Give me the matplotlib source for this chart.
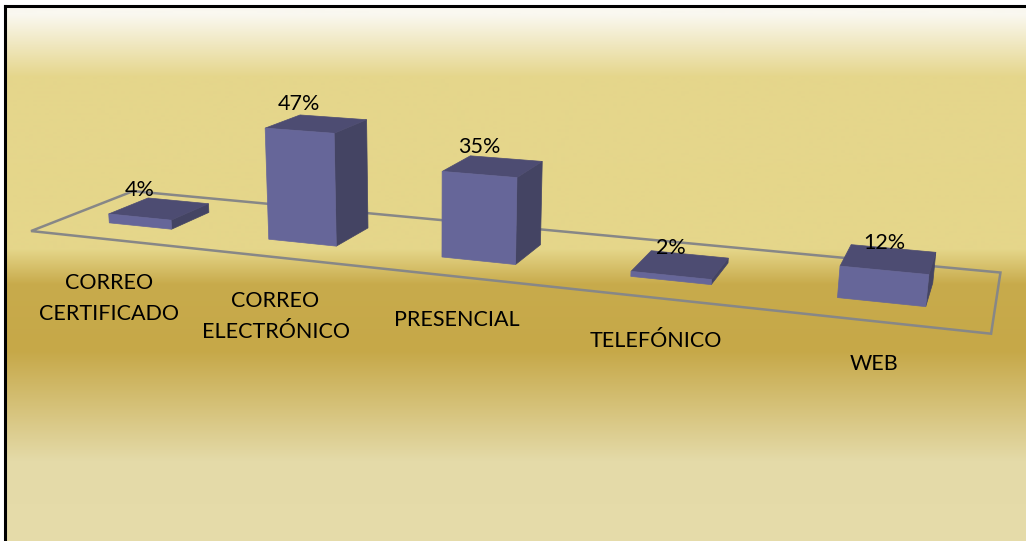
import numpy as np
import matplotlib
matplotlib.use("Agg")
import matplotlib.pyplot as plt
from matplotlib.patches import Polygon

categories = ["CORREO\nCERTIFICADO", "CORREO\nELECTRÓNICO", "PRESENCIAL", "TELEFÓNICO", "WEB"]
values = [4, 47, 35, 2, 12]
value_labels = ["4%", "47%", "35%", "2%", "12%"]

W, H = 1026, 541

# perspective camera (world: X = category index, Y = value %, Z = depth 0..1) -> pixel
CAMERA = np.array([
    [154.9776, -0.1986836, 118.893, 109.1816],
    [7.152245, -2.423026, -19.46481, 239.3973],
    [-0.04137012, -0.0004590407, 0.1112257, 1.0],
])


def proj(X, Y, Z):
    h = CAMERA @ np.array([X, Y, Z, 1.0])
    return h[0] / h[2], h[1] / h[2]


plt.rcParams["font.family"] = ["Lato", "DejaVu Sans"]
fig = plt.figure(figsize=(W / 100, H / 100), dpi=100)

ax = fig.add_axes([0, 0, 1, 1])
ax.set_xlim(0, W)
ax.set_ylim(H, 0)
ax.axis("off")

# background gradient
stops_y = [0, 8, 70, 243, 278, 345, 455, 541]
stops_c = np.array([[250, 248, 240], [250, 248, 240], [229, 214, 140], [229, 214, 138],
                    [200, 171, 76], [198, 168, 72], [228, 218, 168], [230, 220, 170]]) / 255
yy = np.arange(H)
grad = np.stack([np.interp(yy, stops_y, stops_c[:, k]) for k in range(3)], -1)[:, None, :]
ax.imshow(grad, extent=(5, W + 5, H + 5, 6), aspect="auto", zorder=0)
ax.plot([5, 5], [H + 5, 6], color="black", lw=2.2, zorder=1, solid_capstyle="projecting")
ax.plot([5, W + 5], [6, 6], color="black", lw=2.2, zorder=1, solid_capstyle="projecting")

# floor outline
n = len(values)
floor = [proj(-0.5, 0, 0), proj(n - 0.5, 0, 0), proj(n - 0.5, 0, 1), proj(-0.5, 0, 1)]
ax.add_patch(Polygon(floor, closed=True, fill=False, edgecolor="#878787", lw=1.8, zorder=2))

front_c, side_c, top_c = "#666699", "#444463", "#4d4c72"
bw, z0, z1 = 0.2, 0.3, 0.7
for i, val in enumerate(values):
    x0, x1 = i - bw, i + bw
    front = [proj(x0, 0, z0), proj(x1, 0, z0), proj(x1, val, z0), proj(x0, val, z0)]
    side = [proj(x1, 0, z0), proj(x1, 0, z1), proj(x1, val, z1), proj(x1, val, z0)]
    top = [proj(x0, val, z0), proj(x1, val, z0), proj(x1, val, z1), proj(x0, val, z1)]
    for poly, c in ((side, side_c), (top, top_c), (front, front_c)):
        ax.add_patch(Polygon(poly, closed=True, facecolor=c, edgecolor=c, lw=0.5, zorder=3))
    ax.annotate(value_labels[i], proj(i, val, z0), xytext=(0, 21), textcoords="offset pixels",
                ha="center", va="baseline", fontsize=15.5, color="black", zorder=5)
    nlines = categories[i].count("\n") + 1
    ax.annotate(categories[i], proj(i, 0, 0), xytext=(0, -49 - 32 * (nlines - 1)),
                textcoords="offset pixels", ha="center", va="baseline", fontsize=15.5,
                color="black", linespacing=1.7, zorder=5)

fig.savefig("out.png", dpi=100)
